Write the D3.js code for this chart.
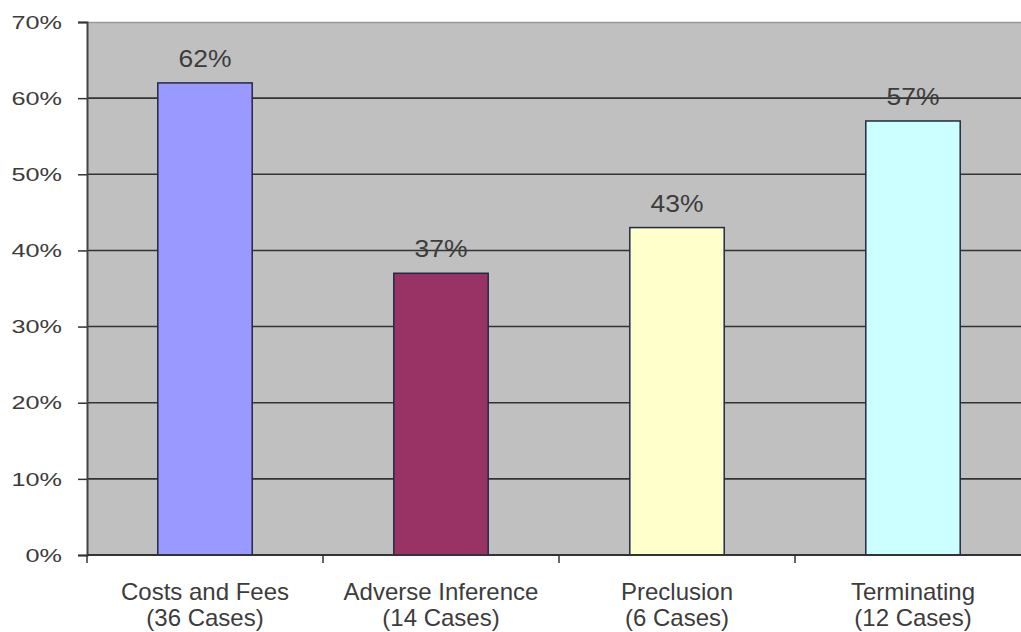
<!DOCTYPE html>
<html>
<head>
<meta charset="utf-8">
<script src="https://cdn.jsdelivr.net/npm/d3@7"></script>
<style>
  body { margin: 0; background: #fff; }
  text { font-family: "Liberation Sans", Arial, sans-serif; fill: #3c3c3c; }
</style>
</head>
<body>
<div id="chart-area"></div>
<script>
// data
const categories = ["Costs and Fees", "Adverse Inference", "Preclusion", "Terminating"];
const caseCounts = ["(36 Cases)", "(14 Cases)", "(6 Cases)", "(12 Cases)"];
const values = [62, 37, 43, 57];
const barColors = ["#9999ff", "#993366", "#ffffcc", "#ccffff"];
const yTicks = [0, 10, 20, 30, 40, 50, 60, 70];

const W = 1021, H = 632;
const MARGIN = {LEFT: 87, RIGHT: -10, TOP: 22, BOTTOM: 77};
const WIDTH = W - MARGIN.LEFT - MARGIN.RIGHT;
const HEIGHT = H - MARGIN.TOP - MARGIN.BOTTOM;

const svg = d3.select("#chart-area").append("svg")
    .attr("width", W).attr("height", H);
const g = svg.append("g")
    .attr("transform", `translate(${MARGIN.LEFT}, ${MARGIN.TOP})`);

const x = d3.scaleBand().domain(categories).range([0, WIDTH]).paddingInner(0.6).paddingOuter(0.3);
const xOuter = d3.scaleBand().domain(categories).range([0, WIDTH]);
const y = d3.scaleLinear().domain([0, 70]).range([HEIGHT, 0]);

// plot background
g.append("rect")
    .attr("width", WIDTH).attr("height", HEIGHT)
    .attr("fill", "#c0c0c0");

// gridlines
g.selectAll(".grid").data(yTicks.slice(1, -1)).enter().append("line")
    .attr("x1", 0).attr("x2", WIDTH)
    .attr("y1", d => y(d)).attr("y2", d => y(d))
    .attr("stroke", "#333").attr("stroke-width", 1.6);
// top border
g.append("line").attr("x1", 0).attr("x2", WIDTH).attr("y1", 0.5).attr("y2", 0.5)
    .attr("stroke", "#999").attr("stroke-width", 1.5);

// bars
g.selectAll(".bar").data(values).enter().append("rect")
    .attr("x", (d, i) => x(categories[i]))
    .attr("y", d => y(d))
    .attr("width", x.bandwidth())
    .attr("height", d => HEIGHT - y(d))
    .attr("fill", (d, i) => barColors[i])
    .attr("stroke", "#1f2a44").attr("stroke-width", 1.5);

// value labels (source text is a bit stretched sideways)
g.selectAll(".val").data(values).enter().append("text")
    .attr("transform", (d, i) => `translate(${x(categories[i]) + x.bandwidth() / 2}, ${y(d) - 16}) scale(1.15, 1)`)
    .attr("text-anchor", "middle")
    .style("font-size", "23px")
    .text(d => d + "%");

// y axis
const yAxis = g.append("g").call(d3.axisLeft(y).tickValues(yTicks).tickFormat("").tickSize(9));
yAxis.select(".domain").attr("stroke", "#444").attr("stroke-width", 2);
yAxis.selectAll(".tick line").attr("stroke", "#333").attr("stroke-width", 1.5);
g.selectAll(".ylbl").data(yTicks).enter().append("text")
    .attr("transform", d => `translate(-25, ${y(d)}) scale(1.33, 1)`)
    .attr("text-anchor", "end")
    .attr("dy", "0.35em")
    .style("font-size", "19px")
    .text(d => d + "%");

// x axis
const xAxis = g.append("g").attr("transform", `translate(0, ${HEIGHT})`);
xAxis.append("line").attr("x1", 0).attr("x2", WIDTH).attr("stroke", "#333").attr("stroke-width", 2);
xAxis.selectAll(".xt").data(categories).enter().append("line")
    .attr("x1", d => xOuter(d)).attr("x2", d => xOuter(d))
    .attr("y1", 0).attr("y2", 8)
    .attr("stroke", "#333").attr("stroke-width", 1.5);

const lbl = xAxis.selectAll(".lbl").data(categories).enter().append("text")
    .attr("text-anchor", "middle")
    .style("font-size", "24px");
lbl.append("tspan").attr("x", d => x(d) + x.bandwidth() / 2).attr("y", 45).text(d => d);
lbl.append("tspan").attr("x", d => x(d) + x.bandwidth() / 2).attr("y", 71).text((d, i) => caseCounts[i]);
</script>
</body>
</html>
